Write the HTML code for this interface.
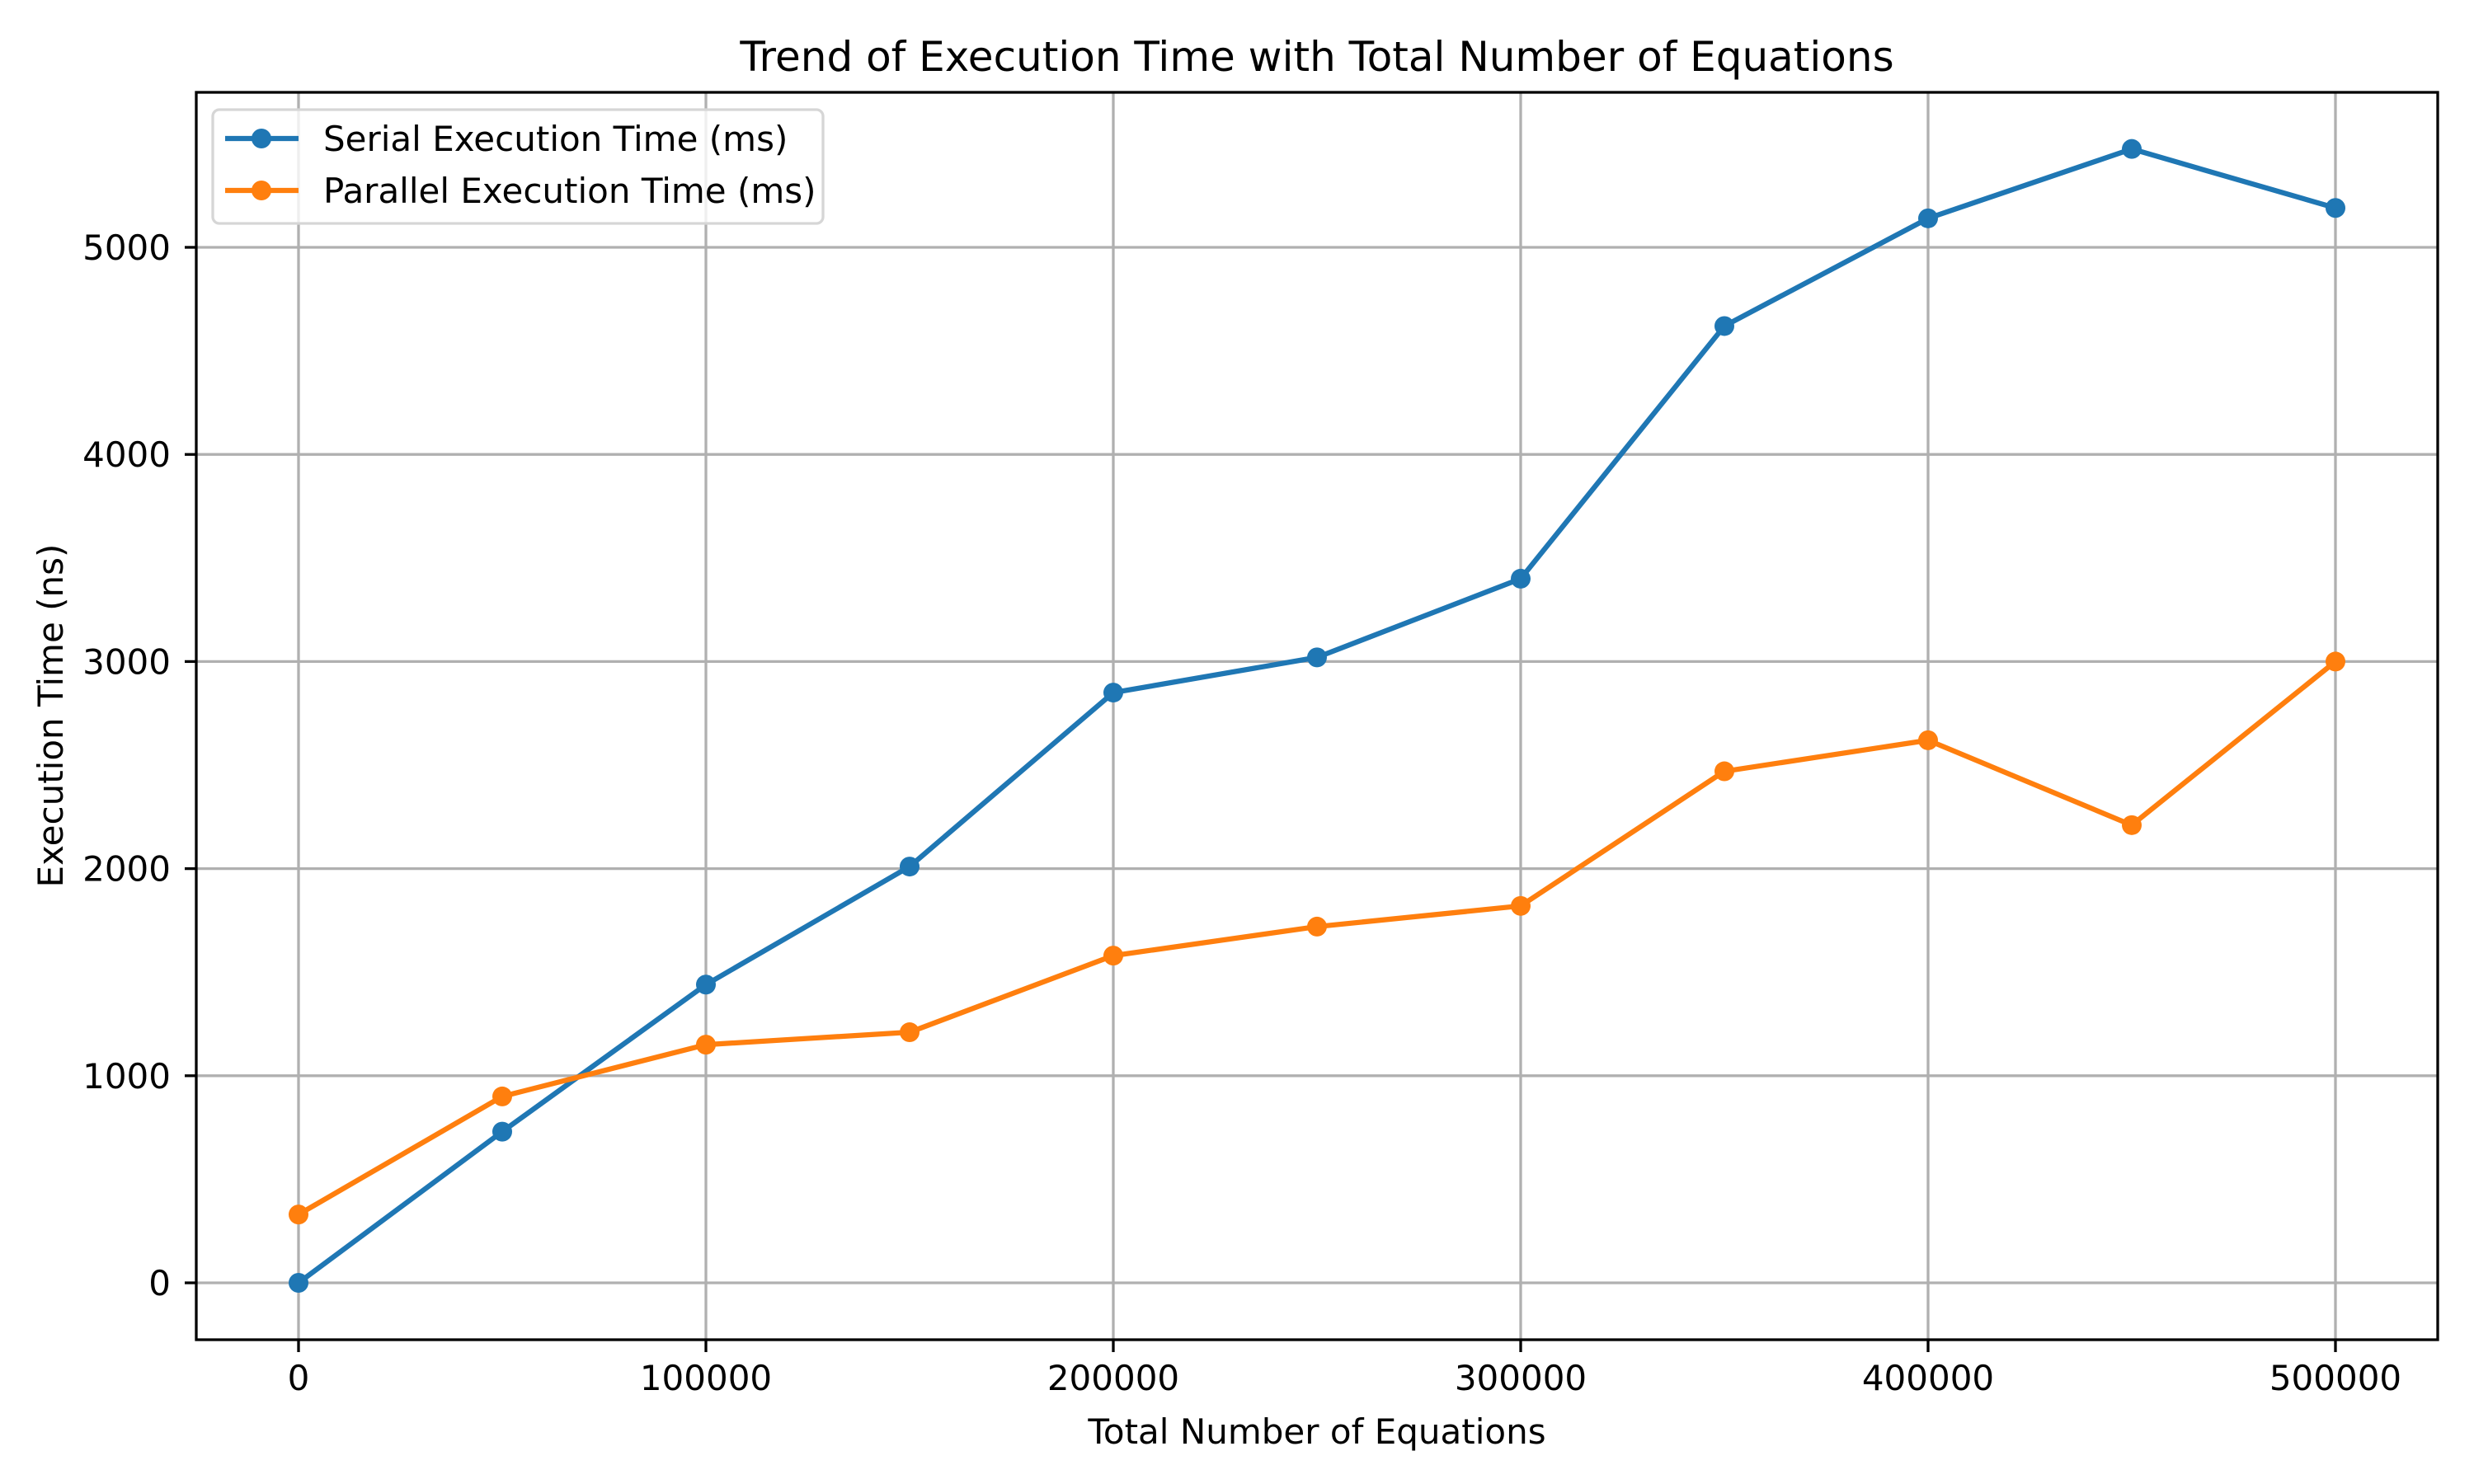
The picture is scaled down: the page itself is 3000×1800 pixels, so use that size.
<!DOCTYPE html>
<html><head><meta charset="utf-8"><style>
html,body{margin:0;padding:0;background:#fff}
svg{display:block}
text{font-family:"DejaVu Sans","Liberation Sans",sans-serif;fill:#000}
</style></head><body>
<svg id="chart" width="3000" height="1800" viewBox="0 0 3000 1800" xmlns="http://www.w3.org/2000/svg">
<rect width="3000" height="1800" fill="#fff"/>
<g id="grid"></g>
<g id="series"></g>
<rect x="238" y="112" width="2718" height="1513" fill="none" stroke="#000" stroke-width="3.3"/>
<g id="ticks"></g>
<text x="1597" y="86" font-size="50" text-anchor="middle">Trend of Execution Time with Total Number of Equations</text>
<text x="1597" y="1751" font-size="42" text-anchor="middle">Total Number of Equations</text>
<text x="0" y="0" font-size="42" text-anchor="middle" transform="translate(76,868) rotate(-90)">Execution Time (ns)</text>
<g>
<rect x="258" y="133" width="740" height="138" rx="8" fill="#fff" fill-opacity="0.8" stroke="#d6d6d6" stroke-width="3.3"/>
<line x1="273" y1="168" x2="362" y2="168" stroke="#1f77b4" stroke-width="6.25"/>
<circle cx="317" cy="168" r="12" fill="#1f77b4"/>
<text x="392" y="183" font-size="42">Serial Execution Time (ms)</text>
<line x1="273" y1="231" x2="362" y2="231" stroke="#ff7f0e" stroke-width="6.25"/>
<circle cx="317" cy="231" r="12" fill="#ff7f0e"/>
<text x="392" y="246" font-size="42">Parallel Execution Time (ms)</text>
</g>
</svg>
<script>
const categories = [0, 50000, 100000, 150000, 200000, 250000, 300000, 350000, 400000, 450000, 500000];
const serialValues = [0, 730, 1440, 2010, 2850, 3020, 3400, 4620, 5140, 5475, 5190];
const parallelValues = [330, 900, 1150, 1210, 1580, 1720, 1820, 2470, 2620, 2210, 3000];
const xTicks = [0, 100000, 200000, 300000, 400000, 500000];
const yTicks = [0, 1000, 2000, 3000, 4000, 5000];

const NS = "http://www.w3.org/2000/svg";
function xs(v){ return 362 + v * (2832 - 362) / 500000; }
function ys(v){ return 1556 - v * (1556 - 300) / 5000; }
function mk(tag, attrs, parent){
  const e = document.createElementNS(NS, tag);
  for (const k in attrs) e.setAttribute(k, attrs[k]);
  parent.appendChild(e);
  return e;
}
const grid = document.getElementById('grid');
const ticks = document.getElementById('ticks');
const series = document.getElementById('series');

xTicks.forEach(t => {
  const x = xs(t);
  const g = mk('line', {x1:x, y1:112, x2:x, y2:1625, stroke:'#b0b0b0', 'stroke-width':3.3}, grid);
  
  
  const tk = mk('line', {x1:x, y1:1625, x2:x, y2:1640, stroke:'#000', 'stroke-width':3.3}, ticks);
  
  
  const lb = mk('text', {x:x, y:1686, 'font-size':42, 'text-anchor':'middle'}, ticks);
  lb.textContent = String(t);
  
  
});
yTicks.forEach(t => {
  const y = ys(t);
  const g = mk('line', {x1:238, y1:y, x2:2956, y2:y, stroke:'#b0b0b0', 'stroke-width':3.3}, grid);
  
  
  const tk = mk('line', {x1:224, y1:y, x2:238, y2:y, stroke:'#000', 'stroke-width':3.3}, ticks);
  
  
  const lb = mk('text', {x:207, y:y+15, 'font-size':42, 'text-anchor':'end'}, ticks);
  lb.textContent = String(t);
  
  
});
function drawSeries(vals, color, name){
  const pts = vals.map((v,i) => xs(categories[i]) + ',' + ys(v)).join(' ');
  const pl = mk('polyline', {points:pts, fill:'none', stroke:color, 'stroke-width':6.25, 'stroke-linejoin':'round', 'stroke-linecap':'square'}, series);
  
  
  vals.forEach((v,i) => {
    const c = mk('circle', {cx:xs(categories[i]), cy:ys(v), r:12, fill:color}, series);
    
    
  });
}
drawSeries(serialValues, '#1f77b4', 'serial');
drawSeries(parallelValues, '#ff7f0e', 'parallel');
</script>
</body></html>
